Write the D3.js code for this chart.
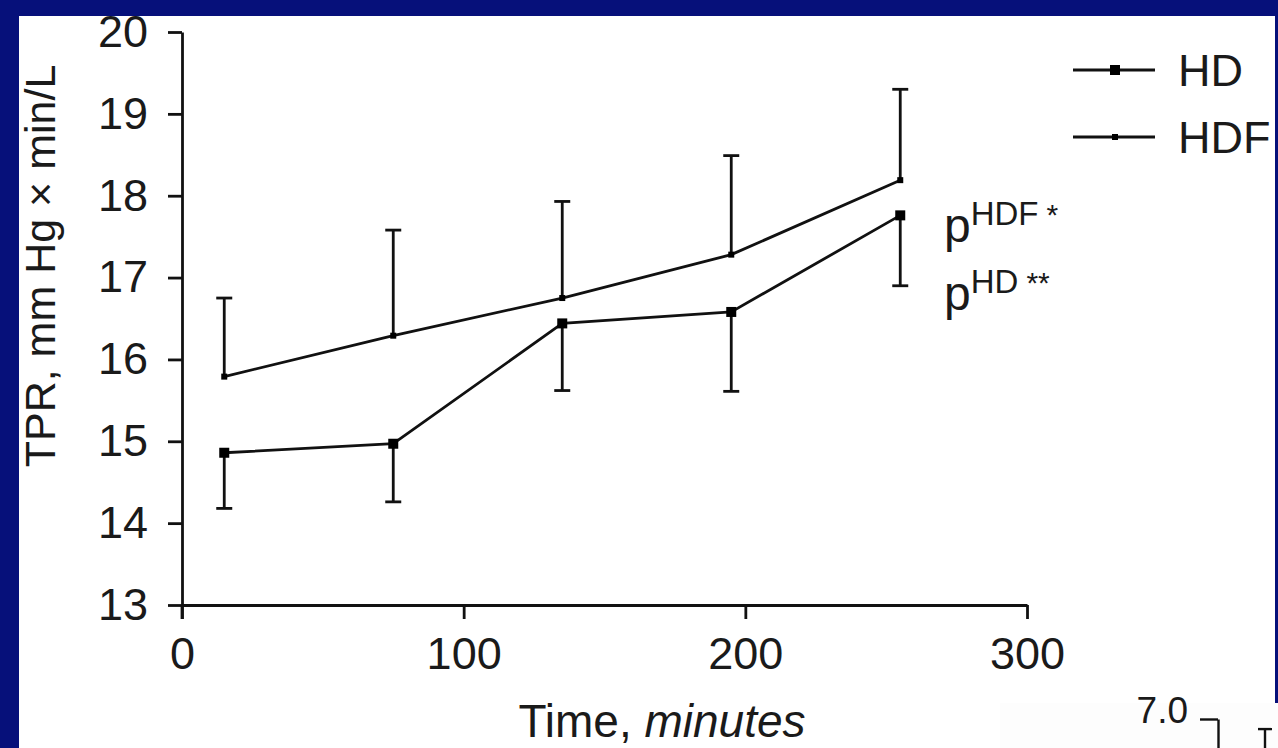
<!DOCTYPE html>
<html>
<head>
<meta charset="utf-8">
<script src="https://cdn.jsdelivr.net/npm/d3@7"></script>
<style>
  html, body { margin: 0; padding: 0; background: #06107a; }
  svg { display: block; font-family: "Liberation Sans", Arial, sans-serif; }
</style>
</head>
<body>
<div id="chart"></div>
<script>
// Data (time in minutes, TPR in mm Hg x min/L)
const times = [15, 75, 135, 195, 255];
const hdMean = [14.86, 14.97, 16.44, 16.58, 17.76];
const hdLower = [14.18, 14.26, 15.62, 15.61, 16.90];
const hdfMean = [15.79, 16.29, 16.75, 17.28, 18.19];
const hdfUpper = [16.75, 17.58, 17.93, 18.49, 19.30];
const xTicks = [0, 100, 200, 300];
const yTicks = [13, 14, 15, 16, 17, 18, 19, 20];
const seriesNames = ["HD", "HDF"];
// fragment of the neighbouring panel peeking in at the bottom right
const fragTicks = [7.0];
const fragCap = [6.86];

const W = 1278, H = 748;
const svg = d3.select('#chart').append('svg')
  .attr('width', W)
  .attr('height', H);

// background + slide panel
svg.append('rect').attr('width', W).attr('height', H).attr('fill', '#06107a');
svg.append('rect').attr('x', 19).attr('y', 16).attr('width', 1256).attr('height', H - 16).attr('fill', '#ffffff');
svg.append('rect').attr('x', 1000).attr('y', 703).attr('width', 278).attr('height', 45).attr('fill', '#fdfdfd');

const x = d3.scaleLinear().domain([0, 300]).range([182, 1027]);
const y = d3.scaleLinear().domain([13, 20]).range([605, 32]);

// axes
const yAxis = svg.append('g')
  .attr('transform', 'translate(182,0)')
  .call(d3.axisLeft(y).tickValues(yTicks).tickFormat(d3.format('d'))
    .tickSize(14).tickSizeOuter(0).tickPadding(20));
const xAxis = svg.append('g')
  .attr('transform', 'translate(0,605)')
  .call(d3.axisBottom(x).tickValues(xTicks).tickFormat(d3.format('d'))
    .tickSize(14).tickSizeOuter(0).tickPadding(18));

[yAxis, xAxis].forEach(g => {
  g.select('.domain').attr('stroke', '#111').attr('stroke-width', 2.8);
  g.selectAll('.tick line').attr('stroke', '#111').attr('stroke-width', 2.8);
  g.selectAll('.tick text')
    .attr('fill', '#1a1a1a')
    .style('font-size', '45px')
    .style('font-family', '"Liberation Sans", Arial, sans-serif');
});
// y axis runs down through the x axis to the 0 tick
svg.append('line')
  .attr('x1', x(0)).attr('x2', x(0))
  .attr('y1', y(13)).attr('y2', y(13) + 14)
  .attr('stroke', '#111').attr('stroke-width', 2.8);

// axis titles
svg.append('text')
  .attr('transform', 'translate(55,266) rotate(-90)')
  .attr('text-anchor', 'middle')
  .attr('fill', '#1a1a1a')
  .style('font-size', '43px')
  .text('TPR, mm Hg \u00d7 min/L');

const xTitle = svg.append('text')
  .attr('x', 662).attr('y', 737)
  .attr('text-anchor', 'middle')
  .attr('fill', '#1a1a1a')
  .style('font-size', '46px');
xTitle.append('tspan').text('Time, ');
xTitle.append('tspan').style('font-style', 'italic').text('minutes');

// series
const hd = times.map((t, i) => ({t: t, v: hdMean[i], e: hdLower[i]}));
const hdf = times.map((t, i) => ({t: t, v: hdfMean[i], e: hdfUpper[i]}));
const line = d3.line().x(d => x(d.t)).y(d => y(d.v));

function errorBars(data, cls) {
  const g = svg.append('g').attr('class', cls)
    .attr('stroke', '#111').attr('stroke-width', 2.8);
  g.selectAll('line.bar').data(data).enter().append('line')
    .attr('class', 'bar')
    .attr('x1', d => x(d.t)).attr('x2', d => x(d.t))
    .attr('y1', d => y(d.v)).attr('y2', d => y(d.e));
  g.selectAll('line.cap').data(data).enter().append('line')
    .attr('class', 'cap')
    .attr('x1', d => x(d.t) - 8).attr('x2', d => x(d.t) + 8)
    .attr('y1', d => y(d.e)).attr('y2', d => y(d.e));
}
errorBars(hd, 'hd-err');
errorBars(hdf, 'hdf-err');

[hd, hdf].forEach(data => {
  svg.append('path').datum(data)
    .attr('d', line)
    .attr('fill', 'none')
    .attr('stroke', '#111')
    .attr('stroke-width', 2.8);
});

function markers(data, size) {
  svg.append('g').selectAll('rect').data(data).enter().append('rect')
    .attr('x', d => x(d.t) - size / 2)
    .attr('y', d => y(d.v) - size / 2)
    .attr('width', size).attr('height', size)
    .attr('fill', '#000');
}
markers(hd, 10);
markers(hdf, 6);

// legend
const legend = svg.append('g');
const legendY = [70, 137];
const markerSize = [10, 6];
seriesNames.forEach((name, i) => {
  legend.append('line')
    .attr('x1', 1073).attr('x2', 1155)
    .attr('y1', legendY[i]).attr('y2', legendY[i])
    .attr('stroke', '#111').attr('stroke-width', 2.8);
  legend.append('rect')
    .attr('x', 1115 - markerSize[i] / 2).attr('y', legendY[i] - markerSize[i] / 2)
    .attr('width', markerSize[i]).attr('height', markerSize[i])
    .attr('fill', '#000');
  legend.append('text')
    .attr('x', 1178).attr('y', legendY[i] + 16)
    .attr('fill', '#1a1a1a')
    .style('font-size', '45px')
    .text(name);
});

// significance notes
const notes = [
  {sup: 'HDF', stars: '*', base: 242},
  {sup: 'HD', stars: '**', base: 310}
];
notes.forEach(n => {
  const t = svg.append('text')
    .attr('x', 944).attr('y', n.base)
    .attr('fill', '#1a1a1a')
    .style('font-size', '48px');
  t.append('tspan').text('p');
  t.append('tspan').attr('dy', -17).style('font-size', '33px').text(n.sup);
  t.append('tspan').attr('dx', 8).style('font-size', '30px').text(n.stars);
});

// clip the right edge with the slide border
svg.append('rect').attr('x', 1275).attr('y', 0).attr('width', 3).attr('height', 703).attr('fill', '#06107a');

// neighbouring panel fragment
const fy = d3.scaleLinear().domain([6.0, 7.0]).range([791, 719]);
const frag = svg.append('g').attr('transform', 'translate(1218,0)')
  .call(d3.axisLeft(fy).tickValues(fragTicks).tickFormat(d3.format('.1f')).tickSize(18).tickSizeOuter(0).tickPadding(12));
frag.select('.domain').attr('stroke', '#111').attr('stroke-width', 2.4);
frag.selectAll('.tick line').attr('stroke', '#111').attr('stroke-width', 2.4);
frag.selectAll('.tick text')
  .attr('fill', '#1a1a1a')
  .attr('dy', '0.1em')
  .style('font-size', '37px')
  .style('font-family', '"Liberation Sans", Arial, sans-serif');
svg.append('g').selectAll('g').data(fragCap).enter().append('g')
  .each(function(d) {
    d3.select(this).append('line')
      .attr('x1', 1265).attr('x2', 1265).attr('y1', fy(d)).attr('y2', H)
      .attr('stroke', '#111').attr('stroke-width', 2.4);
    d3.select(this).append('line')
      .attr('x1', 1258).attr('x2', 1272).attr('y1', fy(d)).attr('y2', fy(d))
      .attr('stroke', '#111').attr('stroke-width', 2.4);
  });
</script>
</body>
</html>
